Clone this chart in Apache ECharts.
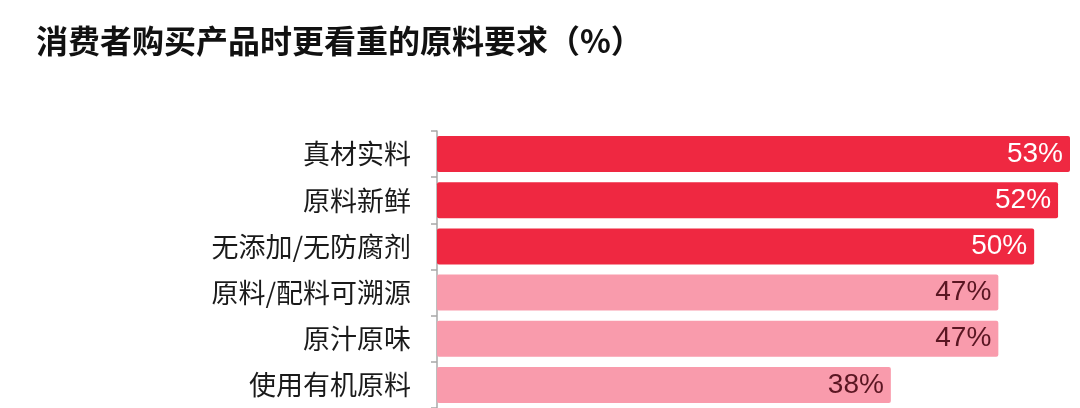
<!DOCTYPE html>
<html>
<head>
<meta charset="utf-8">
<script src="https://cdn.jsdelivr.net/npm/echarts@6/dist/echarts.min.js"></script>
<style>
  html, body { margin: 0; padding: 0; background: #fff; }
  #chart { width: 1080px; height: 408px; }
</style>
</head>
<body>
<div id="chart"></div>
<script>
// 原料要求（%）
const categories = ['真材实料', '原料新鲜', '无添加/无防腐剂', '原料/配料可溯源', '原汁原味', '使用有机原料'];
const values = [53, 52, 50, 47, 47, 38];
const highlightCount = 3; // 前三项用深红色

const RED = '#EF2841';
const PINK = '#F99BAC';

const chart = echarts.init(document.getElementById('chart'));

const barData = values.map((v, i) => ({
    value: v,
    itemStyle: { color: i < highlightCount ? RED : PINK },
    label: { color: i < highlightCount ? '#ffffff' : '#5a1622' }
}));

chart.setOption({
    backgroundColor: '#ffffff',
    animation: false,
    title: {
        text: '消费者购买产品时更看重的原料要求（%）',
        left: 31,
        top: 20,
        textStyle: {
            fontFamily: 'Noto Sans CJK SC',
            fontSize: 32,
            fontWeight: 'bold',
            color: '#111'
        }
    },
    grid: { left: 437, right: 10, top: 131, height: 278 },
    xAxis: {
        type: 'value',
        min: 0,
        max: 53,
        show: false
    },
    yAxis: {
        type: 'category',
        data: categories,
        inverse: true,
        axisLine: { show: true, lineStyle: { color: '#a8a8a8', width: 1.5 } },
        axisTick: { show: true, length: 6, lineStyle: { color: '#a8a8a8', width: 1.5 } },
        axisLabel: {
            margin: 26,
            fontFamily: 'Noto Sans CJK SC',
            fontSize: 27,
            color: '#1a1a1a'
        }
    },
    series: [{
        type: 'bar',
        data: barData,
        barWidth: 36,
        itemStyle: { borderRadius: 2 },
        label: {
            show: true,
            position: 'insideRight',
            distance: 7,
            formatter: '{c}%',
            fontFamily: 'Liberation Sans',
            fontSize: 28
        }
    }]
});
</script>
</body>
</html>
